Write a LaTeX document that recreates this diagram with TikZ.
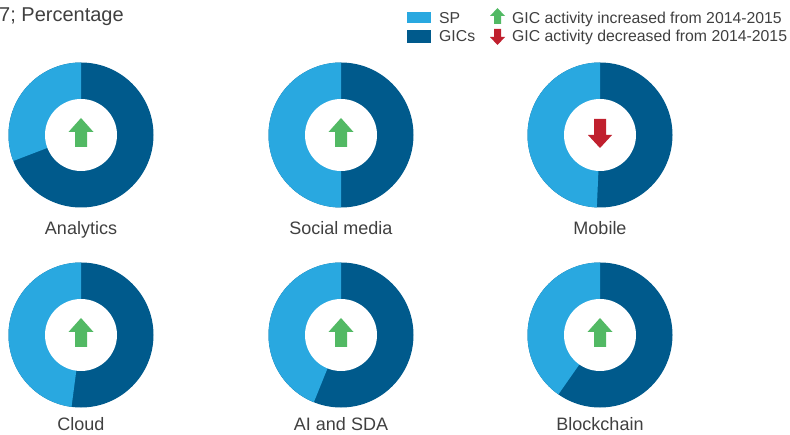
\documentclass[tikz,border=0pt]{standalone}
\usepackage{fontspec}
\setmainfont{Liberation Sans}
\usetikzlibrary{calc}
\definecolor{splight}{HTML}{29A8E0}
\definecolor{gicdark}{HTML}{005A8C}
\definecolor{upgreen}{HTML}{52B964}
\definecolor{downred}{HTML}{C0202E}
\definecolor{txtgray}{HTML}{404040}
\tikzset{
  lbl/.style={text=txtgray, font=\fontsize{18}{18}\selectfont, inner sep=0pt, anchor=base},
  legtxt/.style={text=txtgray, font=\fontsize{15.8}{15.8}\selectfont, inner sep=0pt, anchor=base west},
  ttl/.style={text=txtgray, font=\fontsize{20}{20}\selectfont, inner sep=0pt, anchor=base west}
}
\newcommand{\mydonut}[5]{% cx, cy, SP angle, label, up(1)/down(0)
  \coordinate (#4c) at (#1,#2);
  \fill[gicdark] (#4c) circle (72.5);
  \fill[splight] (#4c) -- ++(90:72.5) arc (90:90+#3:72.5) -- cycle;
  \fill[white] (#4c) circle (36);
  \ifnum#5=1
    \fill[upgreen] ($(#4c)+(0,17)$) -- ++(12.5,-14) -- ++(-6.5,0) -- ++(0,-15) -- ++(-12,0) -- ++(0,15) -- ++(-6.5,0) -- cycle;
  \else
    \fill[downred] ($(#4c)+(0,-13)$) -- ++(12,13) -- ++(-6,0) -- ++(0,16) -- ++(-12,0) -- ++(0,-16) -- ++(-6,0) -- cycle;
  \fi
}
\begin{document}
\begin{tikzpicture}[x=1pt,y=1pt]
\useasboundingbox (0,0) rectangle (790,434);
% title
\node[ttl] (title) at (-1,412) {7; Percentage};
% legend
\fill[splight] (407,411) rectangle (431,422);
\fill[gicdark] (407,391) rectangle (431,404);
\node[legtxt] (legsp) at (439,410) {SP};
\node[legtxt] (leggic) at (439,392) {GICs};
\fill[upgreen] (497.5,426) -- (505,418) -- (501,418) -- (501,410) -- (494,410) -- (494,418) -- (490,418) -- cycle;
\fill[downred] (497.5,389) -- (505,397) -- (501,397) -- (501,405) -- (494,405) -- (494,397) -- (490,397) -- cycle;
\node[legtxt] (legup) at (512,410) {GIC activity increased from 2014-2015};
\node[legtxt] (legdown) at (512,392) {GIC activity decreased from 2014-2015};
% donuts
\mydonut{81}{299}{111}{an}{1}
\mydonut{341}{299}{180}{so}{1}
\mydonut{600}{299}{177.5}{mo}{0}
\mydonut{81}{99}{172.5}{cl}{1}
\mydonut{341}{99}{158}{ai}{1}
\mydonut{600}{99}{145}{bl}{1}
% labels
\node[lbl] (lan) at (81,199) {Analytics};
\node[lbl] (lso) at (341,199) {Social media};
\node[lbl] (lmo) at (600,199) {Mobile};
\node[lbl] (lcl) at (81,3.5) {Cloud};
\node[lbl] (lai) at (341,3.5) {AI and SDA};
\node[lbl] (lbl) at (600,3.5) {Blockchain};
\end{tikzpicture}
\end{document}
